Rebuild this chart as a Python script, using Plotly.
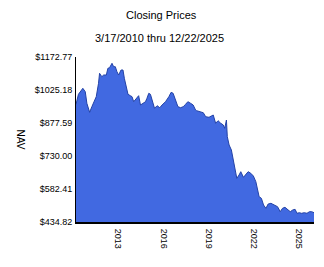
import plotly.graph_objects as go

dates = [
    "2010-03-17", "2010-05-15", "2010-08-29", "2010-10-27", "2010-12-05",
    "2011-01-15", "2011-02-10", "2011-04-05", "2011-06-03", "2011-07-20",
    "2011-09-13", "2011-10-08", "2011-12-02", "2012-01-15", "2012-03-20",
    "2012-04-27", "2012-06-06", "2012-08-04", "2012-09-13", "2012-10-23",
    "2012-12-02", "2013-01-11", "2013-03-11", "2013-04-27", "2013-05-30",
    "2013-07-20", "2013-08-26", "2013-10-23", "2013-12-02", "2014-01-11",
    "2014-02-28", "2014-04-01", "2014-05-11", "2014-06-24", "2014-08-26",
    "2014-10-23", "2014-11-28", "2015-01-11", "2015-02-20", "2015-04-01",
    "2015-05-30", "2015-07-31", "2015-10-05", "2015-11-28", "2016-02-20",
    "2016-05-11", "2016-07-05", "2016-08-22", "2016-10-19", "2016-12-16",
    "2017-02-20", "2017-04-23", "2017-06-20", "2017-08-14", "2017-10-19",
    "2017-12-20", "2018-02-16", "2018-03-14", "2018-06-03", "2018-08-22",
    "2018-10-19", "2019-01-08", "2019-03-04", "2019-04-20", "2019-06-17",
    "2019-08-14", "2019-10-19", "2019-12-20", "2020-01-23", "2020-03-04",
    "2020-03-25", "2020-05-08", "2020-07-02", "2020-08-19", "2020-09-24",
    "2020-11-10", "2021-01-04", "2021-02-14", "2021-04-20", "2021-06-17",
    "2021-08-11", "2021-10-15", "2021-12-16", "2022-02-14", "2022-03-25",
    "2022-05-04", "2022-06-28", "2022-08-19", "2022-10-15", "2022-12-09",
    "2023-02-14", "2023-05-04", "2023-07-24", "2023-09-27", "2023-11-21",
    "2024-01-19", "2024-03-20", "2024-05-27", "2024-07-24", "2024-09-20",
    "2024-11-06", "2025-01-01", "2025-02-24", "2025-05-01", "2025-07-05",
    "2025-09-02", "2025-10-27", "2025-12-22",
]
nav = [
    961.2, 1005.9, 1032.8, 1017.6, 965.7,
    935.7, 925.4, 950.5, 980.4, 995.2,
    1055.1, 1099.8, 1084.6, 1092.2, 1092.2,
    1122.2, 1124.9, 1144.6, 1129.4, 1129.4,
    1107.0, 1092.2, 1114.6, 1114.6, 1077.5,
    1032.8, 1005.9, 999.7, 995.2, 972.8,
    984.9, 988.0, 999.7, 958.1, 965.7,
    972.8, 988.0, 1010.4, 1005.9, 980.4,
    943.3, 954.9, 946.0, 958.1, 972.8,
    995.2, 1014.9, 1010.4, 980.4, 950.5,
    946.0, 950.5, 961.2, 972.8, 965.7,
    958.1, 935.7, 932.6, 928.1, 923.6,
    905.7, 903.1, 908.9, 913.3, 876.2,
    887.9, 876.2, 868.6, 853.9, 891.0,
    816.3, 779.2, 756.8, 704.5, 682.1,
    630.2, 645.0, 659.8, 634.7, 649.5,
    659.8, 652.6, 640.5, 615.0, 577.9,
    548.0, 540.8, 510.8, 496.1, 515.3,
    518.4, 510.8, 503.2, 480.9, 496.1,
    500.5, 491.6, 480.9, 488.5, 491.6,
    473.7, 476.4, 473.7, 476.4, 473.7,
    480.9, 480.9, 476.4,
]
y_ticks = [434.82, 582.41, 730.00, 877.59, 1025.18, 1172.77]
y_tick_labels = ["$434.82", "$582.41", "$730.00", "$877.59", "$1025.18", "$1172.77"]
x_ticks = ["2013-01-01", "2016-01-01", "2019-01-01", "2022-01-01", "2025-01-01"]
x_tick_labels = ["2013", "2016", "2019", "2022", "2025"]
title_1 = "Closing Prices"
title_2 = "3/17/2010 thru 12/22/2025"
y_title = "NAV"

FAM = "Liberation Sans, Arial, sans-serif"
FONT = dict(family=FAM, size=11, color="black")
TICKFONT = dict(family=FAM, size=9, color="black")

fig = go.Figure()
fig.add_trace(go.Scatter(
    x=dates, y=nav, mode="lines", fill="tozeroy",
    fillcolor="#4169E1", line=dict(color="#2342A6", width=1),
    hoverinfo="skip",
))

fig.update_layout(
    width=324, height=267,
    margin=dict(l=76, r=10, t=57, b=45),
    paper_bgcolor="white", plot_bgcolor="white",
    showlegend=False, font=FONT,
    xaxis=dict(
        range=["2010-03-17", "2025-12-22"],
        tickvals=x_ticks, ticktext=x_tick_labels, tickangle=90,
        showgrid=False, zeroline=False,
        showline=True, linecolor="black", linewidth=2,
        ticks="outside", ticklen=3, tickcolor="white", tickfont=TICKFONT,
    ),
    yaxis=dict(
        range=[y_ticks[0], y_ticks[-1]],
        tickvals=y_ticks, ticktext=y_tick_labels,
        showgrid=False, zeroline=False,
        showline=True, linecolor="black", linewidth=1,
        ticks="outside", ticklen=1, tickcolor="white", tickfont=TICKFONT,
    ),
    annotations=[
        dict(text=title_1, xref="paper", yref="paper",
             x=(161 - 76) / 238, y=1 + (57 - 15) / 165,
             showarrow=False, font=FONT, xanchor="center", yanchor="middle"),
        dict(text=title_2, xref="paper", yref="paper",
             x=(159 - 76) / 238, y=1 + (57 - 38) / 165,
             showarrow=False, font=FONT, xanchor="center", yanchor="middle"),
        dict(text=y_title, xref="paper", yref="paper",
             x=(20 - 76) / 238, y=0.5, textangle=90,
             showarrow=False, font=dict(family=FAM, size=10, color="black"),
             xanchor="center", yanchor="middle"),
    ],
)

fig.write_html("out.html")
